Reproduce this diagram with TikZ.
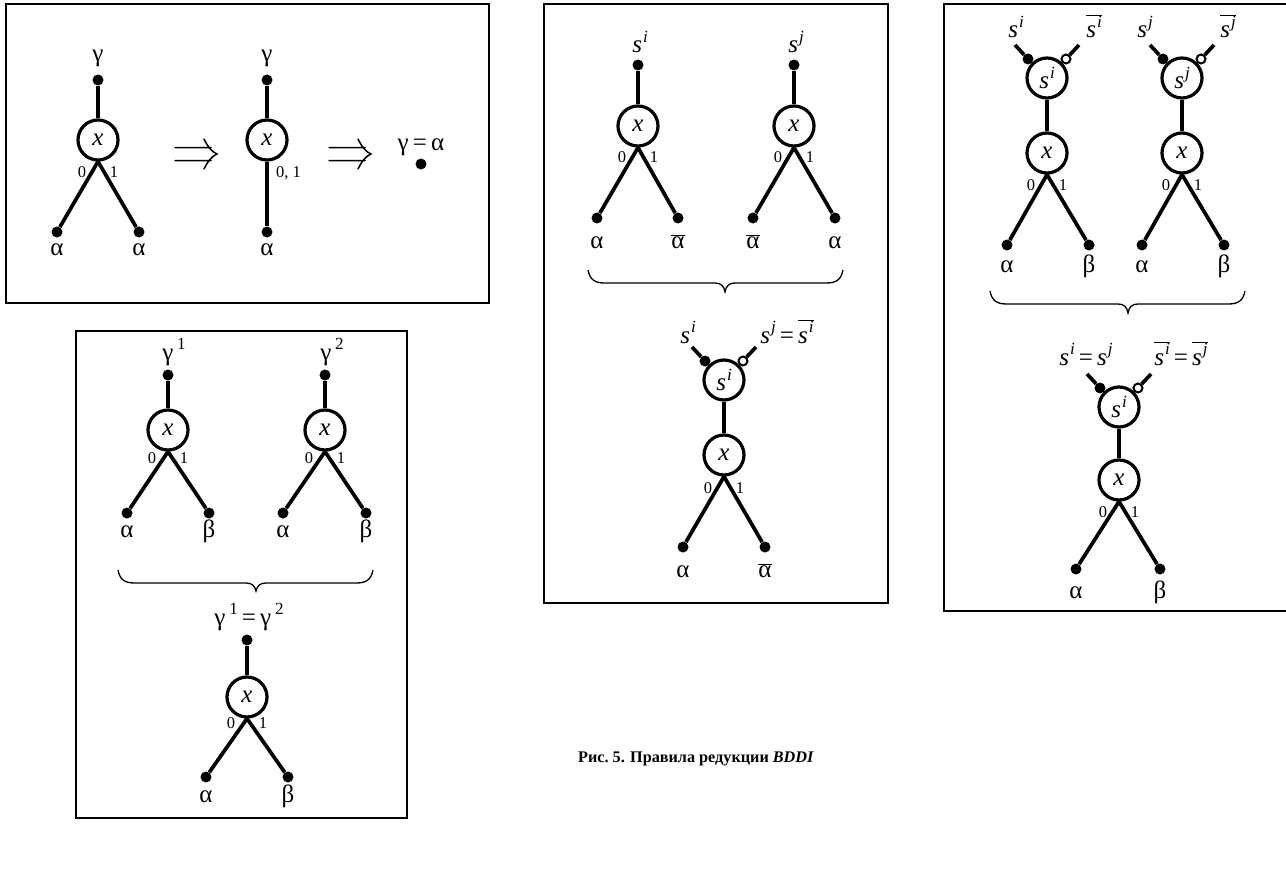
\documentclass[tikz,border=0pt]{standalone}
\usepackage{fontspec}
\setmainfont{Liberation Serif}
\newcommand\upidx[1]{\kern1pt\raisebox{10.5pt}{\fontsize{17}{17}\selectfont #1}}
\newcommand\ovl[1]{$\overline{\mbox{#1}}$}
\newcommand\si{\textit{s}\upidx{\textit{i}}}
\newcommand\sj{\textit{s}\upidx{\textit{j}}}
\begin{document}
\begin{tikzpicture}[x=1pt,y=-1pt,
  panel/.style={draw, line width=1.4pt},
  vnode/.style={circle, draw, line width=3.2pt, minimum size=40pt, inner sep=0pt, fill=white, font=\fontsize{25}{27}\selectfont\itshape},
  term/.style={circle, fill, minimum size=11pt, inner sep=0pt},
  odot/.style={circle, draw, fill=white, line width=2pt, minimum size=9pt, inner sep=0pt},
  edge/.style={line width=3.7pt},
  midedge/.style={line width=3.2pt},
  lbl/.style={font=\fontsize{25}{27}\selectfont, inner sep=0pt, anchor=base},
  dig/.style={font=\fontsize{16.5}{17}\selectfont, inner sep=0pt, anchor=base},
  brace/.style={line width=1.3pt},
  implies/.style={line width=1.5pt, line cap=round}
]
\useasboundingbox (0,0) rectangle (1286,875);
\fill[white] (0,0) rectangle (1286,875);

% ---------- panels ----------
\draw[panel] (6,4) rectangle (489,303);
\draw[panel] (76,331) rectangle (407,818);
\draw[panel] (544,4) rectangle (888,603);
\draw[panel] (944,4) rectangle (1292,611);

% ---------- panel 1 ----------
\node[term] (p1t) at (98,80) {};
\node[vnode] (p1c) at (98,140) {x};
\node[term] (p1l) at (57,232) {};
\node[term] (p1r) at (139,232) {};
\draw[edge] (p1t) -- (p1c);
\draw[edge] (p1c.south) -- (p1l);
\draw[edge] (p1c.south) -- (p1r);
\node[lbl] (p1g) at (98,62) {γ};
\node[lbl] (p1a) at (57,255) {α};
\node[lbl] (p1b) at (139,255) {α};
\node[dig] (p1d0) at (82,177) {0};
\node[dig] (p1d1) at (114,177) {1};

\coordinate (ar1) at (196,154);
\draw[implies] ([shift={(-21,-6.5)}]ar1) -- ([shift={(15,-6.5)}]ar1)
  ([shift={(-21,6.5)}]ar1) -- ([shift={(15,6.5)}]ar1)
  ([shift={(8,-15)}]ar1) .. controls ([shift={(12,-7)}]ar1) and ([shift={(16,-2)}]ar1) .. ([shift={(21,0)}]ar1)
  .. controls ([shift={(16,2)}]ar1) and ([shift={(12,7)}]ar1) .. ([shift={(8,15)}]ar1);

\node[term] (q1t) at (267,80) {};
\node[vnode] (q1c) at (267,140) {x};
\node[term] (q1b) at (267,232) {};
\draw[edge] (q1t) -- (q1c);
\draw[edge] (q1c) -- (q1b);
\node[lbl] (q1g) at (267,62) {γ};
\node[lbl] (q1a) at (267,255) {α};
\node[dig, anchor=base west] (q1d) at (276,177) {0, 1};

\coordinate (ar2) at (350,154);
\draw[implies] ([shift={(-21,-6.5)}]ar2) -- ([shift={(15,-6.5)}]ar2)
  ([shift={(-21,6.5)}]ar2) -- ([shift={(15,6.5)}]ar2)
  ([shift={(8,-15)}]ar2) .. controls ([shift={(12,-7)}]ar2) and ([shift={(16,-2)}]ar2) .. ([shift={(21,0)}]ar2)
  .. controls ([shift={(16,2)}]ar2) and ([shift={(12,7)}]ar2) .. ([shift={(8,15)}]ar2);

\node[term] (r1) at (421,164) {};
\node[lbl] (r1l) at (421,150) {γ\,=\,α};

% ---------- panel 2 ----------
\node[term] (p2t) at (168,375) {};
\node[vnode] (p2c) at (168,430) {x};
\node[term] (p2l) at (127,513) {};
\node[term] (p2r) at (209,513) {};
\draw[edge] (p2t) -- (p2c);
\draw[edge] (p2c.south) -- (p2l);
\draw[edge] (p2c.south) -- (p2r);
\node[lbl] (p2g) at (174,360) {γ\upidx{\,1}};
\node[lbl] (p2a) at (127,537) {α};
\node[lbl] (p2b) at (209,537) {β};
\node[dig] (p2d0) at (152,463) {0};
\node[dig] (p2d1) at (184,463) {1};

\node[term] (q2t) at (325,375) {};
\node[vnode] (q2c) at (325,430) {x};
\node[term] (q2l) at (283,513) {};
\node[term] (q2r) at (366,513) {};
\draw[edge] (q2t) -- (q2c);
\draw[edge] (q2c.south) -- (q2l);
\draw[edge] (q2c.south) -- (q2r);
\node[lbl] (q2g) at (332,360) {γ\upidx{\,2}};
\node[lbl] (q2a) at (283,537) {α};
\node[lbl] (q2b) at (366,537) {β};
\node[dig] (q2d0) at (309,463) {0};
\node[dig] (q2d1) at (341,463) {1};

\draw[brace] (118,570) .. controls (120,580) and (125,583) .. (135,583) -- (246,583)
  .. controls (252,583) and (255,586) .. (256,591) .. controls (257,586) and (260,583) .. (266,583)
  -- (356,583) .. controls (366,583) and (371,580) .. (373,570);

\node[term] (s2t) at (247,640) {};
\node[vnode] (s2c) at (247,697) {x};
\node[term] (s2l) at (206,777) {};
\node[term] (s2r) at (288,777) {};
\draw[edge] (s2t) -- (s2c);
\draw[edge] (s2c.south) -- (s2l);
\draw[edge] (s2c.south) -- (s2r);
\node[lbl] (s2g) at (249,625) {γ\upidx{\,1}\,=\,γ\upidx{\,2}};
\node[lbl] (s2a) at (206,802) {α};
\node[lbl] (s2b) at (288,802) {β};
\node[dig] (s2d0) at (231,728) {0};
\node[dig] (s2d1) at (263,728) {1};

% ---------- panel 3 ----------
\node[term] (p3t) at (638,65) {};
\node[vnode] (p3c) at (638,126) {x};
\node[term] (p3l) at (597,218) {};
\node[term] (p3r) at (678,218) {};
\draw[edge] (p3t) -- (p3c);
\draw[edge] (p3c.south) -- (p3l);
\draw[edge] (p3c.south) -- (p3r);
\node[lbl] (p3g) at (640,53) {\si};
\node[lbl] (p3a) at (597,248) {α};
\node[lbl] (p3b) at (678,248) {\ovl{α}};
\node[dig] (p3d0) at (622,162) {0};
\node[dig] (p3d1) at (654,162) {1};

\node[term] (q3t) at (794,65) {};
\node[vnode] (q3c) at (794,126) {x};
\node[term] (q3l) at (753,218) {};
\node[term] (q3r) at (835,218) {};
\draw[edge] (q3t) -- (q3c);
\draw[edge] (q3c.south) -- (q3l);
\draw[edge] (q3c.south) -- (q3r);
\node[lbl] (q3g) at (796,53) {\sj};
\node[lbl] (q3a) at (753,248) {\ovl{α}};
\node[lbl] (q3b) at (835,248) {α};
\node[dig] (q3d0) at (778,162) {0};
\node[dig] (q3d1) at (810,162) {1};

\draw[brace] (588,270) .. controls (590,280) and (595,283) .. (605,283) -- (715,283)
  .. controls (721,283) and (724,286) .. (725,292) .. controls (726,286) and (729,283) .. (735,283)
  -- (826,283) .. controls (836,283) and (841,280) .. (843,270);

\node[vnode] (s3s) at (724,380) {\si};
\node[vnode] (s3c) at (724,455) {x};
\node[term] (s3l) at (683,547) {};
\node[term] (s3r) at (765,547) {};
\draw[midedge] (s3s.south) -- (s3c.north);
\node[term] (s3f) at (705,361) {};
\node[odot] (s3o) at (743,361) {};
\coordinate (s3fe) at (692,347);
\coordinate (s3oe) at (756,347);
\draw[edge] (s3fe) -- (s3f);
\draw[edge] (s3oe) -- (s3o);
\draw[edge] (s3c.south) -- (s3l);
\draw[edge] (s3c.south) -- (s3r);
\node[lbl] (s3g1) at (688,343) {\si};
\node[lbl] (s3g2) at (787,343) {\sj\,=\,\ovl{\si}};
\node[lbl] (s3a) at (683,577) {α};
\node[lbl] (s3b) at (765,577) {\ovl{α}};
\node[dig] (s3d0) at (708,493) {0};
\node[dig] (s3d1) at (740,493) {1};

% ---------- panel 4 ----------
\node[vnode] (p4s) at (1047,78) {\si};
\node[vnode] (p4c) at (1047,153) {x};
\node[term] (p4l) at (1007,245) {};
\node[term] (p4r) at (1089,245) {};
\draw[midedge] (p4s.south) -- (p4c.north);
\node[term] (p4f) at (1028,59) {};
\node[odot] (p4o) at (1066,59) {};
\coordinate (p4fe) at (1015,45);
\coordinate (p4oe) at (1079,45);
\draw[edge] (p4fe) -- (p4f);
\draw[edge] (p4oe) -- (p4o);
\draw[edge] (p4c.south) -- (p4l);
\draw[edge] (p4c.south) -- (p4r);
\node[lbl] (p4g1) at (1016,38) {\si};
\node[lbl] (p4g2) at (1094,38) {\ovl{\si}};
\node[lbl] (p4a) at (1007,272) {α};
\node[lbl] (p4b) at (1089,272) {β};
\node[dig] (p4d0) at (1031,190) {0};
\node[dig] (p4d1) at (1063,190) {1};

\node[vnode] (q4s) at (1182,78) {\sj};
\node[vnode] (q4c) at (1182,153) {x};
\node[term] (q4l) at (1142,245) {};
\node[term] (q4r) at (1224,245) {};
\draw[midedge] (q4s.south) -- (q4c.north);
\node[term] (q4f) at (1163,59) {};
\node[odot] (q4o) at (1201,59) {};
\coordinate (q4fe) at (1150,45);
\coordinate (q4oe) at (1214,45);
\draw[edge] (q4fe) -- (q4f);
\draw[edge] (q4oe) -- (q4o);
\draw[edge] (q4c.south) -- (q4l);
\draw[edge] (q4c.south) -- (q4r);
\node[lbl] (q4g1) at (1145,38) {\sj};
\node[lbl] (q4g2) at (1228,38) {\ovl{\sj}};
\node[lbl] (q4a) at (1142,272) {α};
\node[lbl] (q4b) at (1224,272) {β};
\node[dig] (q4d0) at (1166,190) {0};
\node[dig] (q4d1) at (1198,190) {1};

\draw[brace] (990,291) .. controls (992,301) and (997,304) .. (1007,304) -- (1118,304)
  .. controls (1124,304) and (1127,307) .. (1128,313) .. controls (1129,307) and (1132,304) .. (1138,304)
  -- (1228,304) .. controls (1238,304) and (1243,301) .. (1245,291);

\node[vnode] (s4s) at (1119,407) {\si};
\node[vnode] (s4c) at (1119,480) {x};
\node[term] (s4l) at (1076,569) {};
\node[term] (s4r) at (1160,569) {};
\draw[midedge] (s4s.south) -- (s4c.north);
\node[term] (s4f) at (1100,388) {};
\node[odot] (s4o) at (1138,388) {};
\coordinate (s4fe) at (1087,374);
\coordinate (s4oe) at (1151,374);
\draw[edge] (s4fe) -- (s4f);
\draw[edge] (s4oe) -- (s4o);
\draw[edge] (s4c.south) -- (s4l);
\draw[edge] (s4c.south) -- (s4r);
\node[lbl] (s4g1) at (1086,365) {\si\,=\,\sj};
\node[lbl] (s4g2) at (1181,365) {\ovl{\si}\,=\,\ovl{\sj}};
\node[lbl] (s4a) at (1076,598) {α};
\node[lbl] (s4b) at (1160,598) {β};
\node[dig] (s4d0) at (1103,517) {0};
\node[dig] (s4d1) at (1135,517) {1};

% ---------- caption ----------
\node[font=\fontsize{16.2}{18}\selectfont\bfseries, anchor=base, inner sep=0pt] (cap) at (696,762) {Рис.\ 5. Правила редукции \textit{BDDI}};
\end{tikzpicture}
\end{document}
